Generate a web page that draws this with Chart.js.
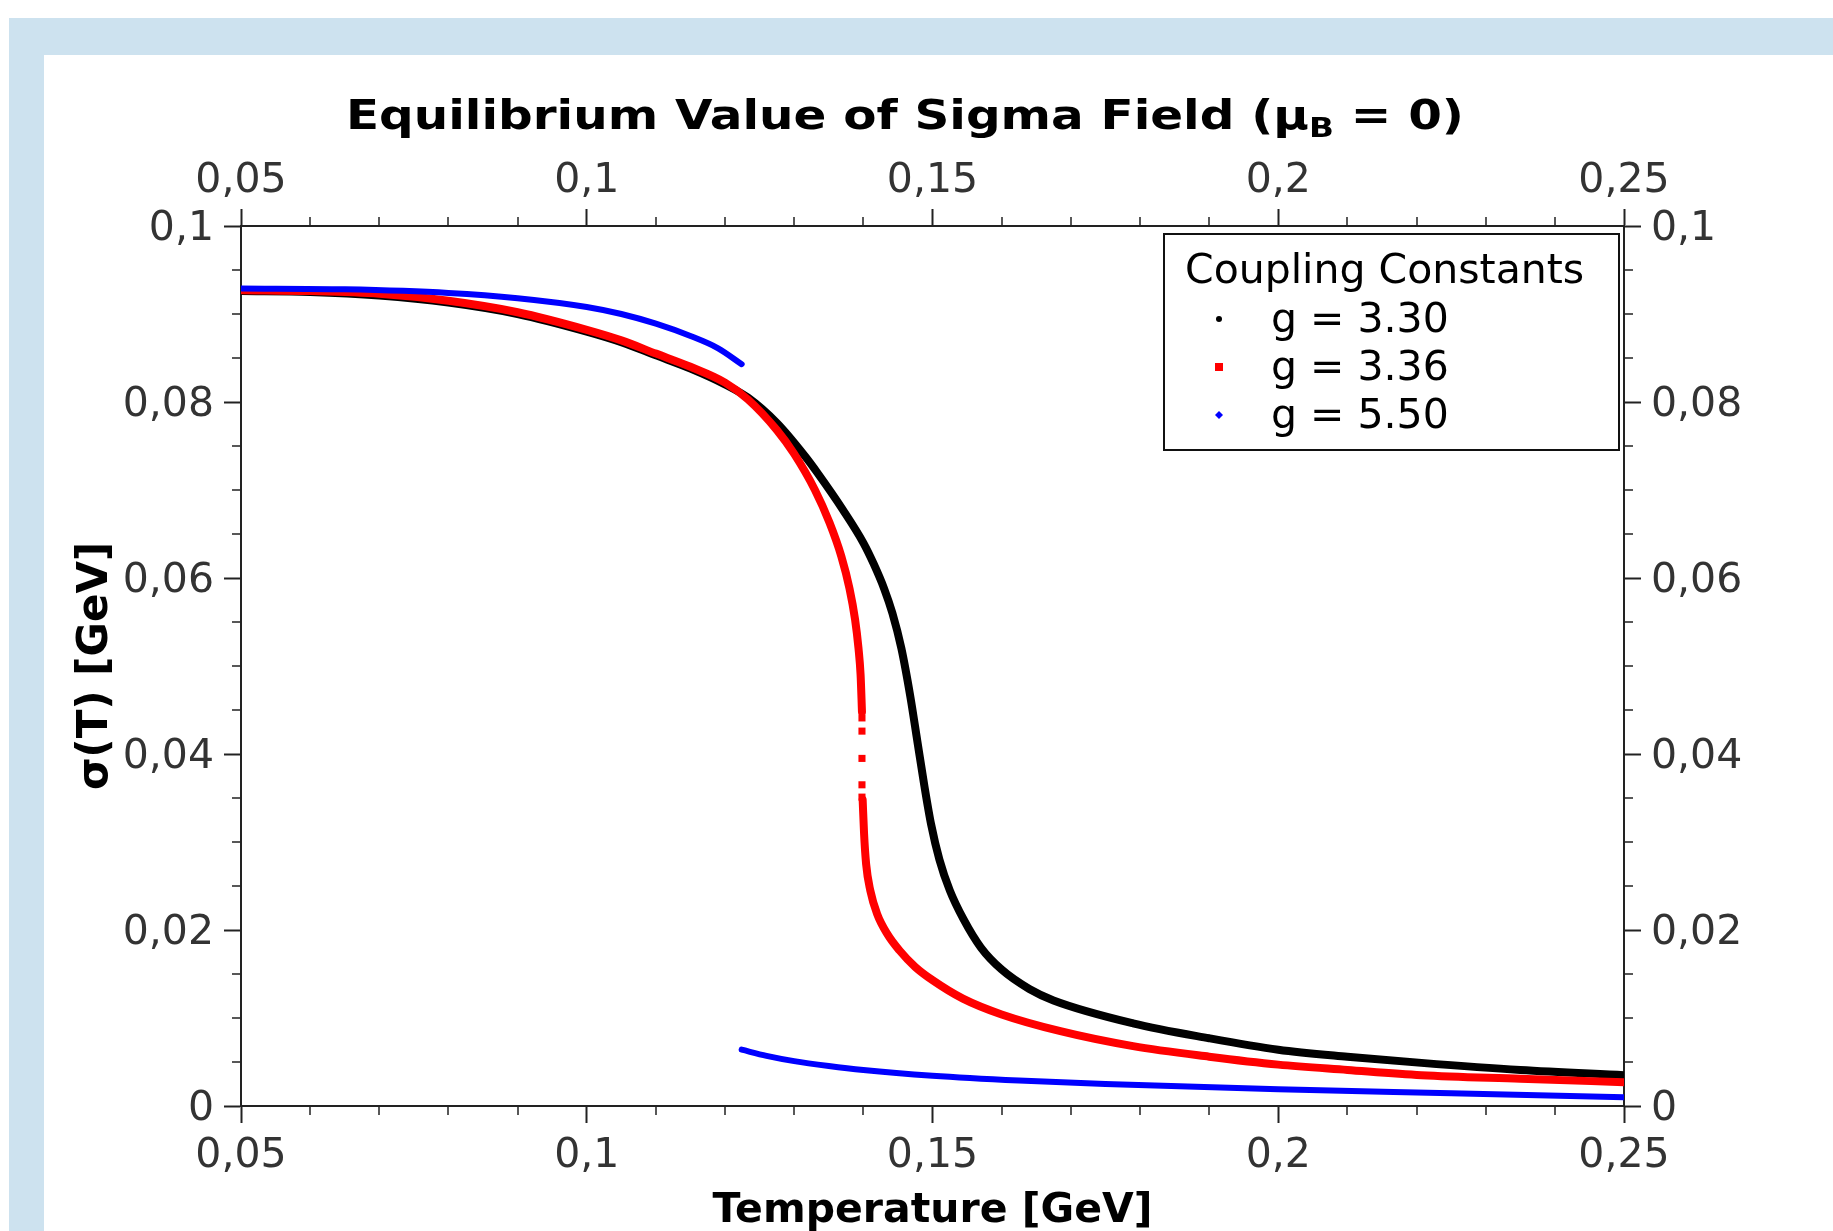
<!DOCTYPE html>
<html lang="en">
<head>
<meta charset="UTF-8">
<title>Equilibrium Value of Sigma Field</title>
<style>
    html, body { margin: 0; padding: 0; background: #fff; overflow: hidden; }
    #frame { position: absolute; left: 9px; top: 18px; width: 1824px; height: 1213px; background: #cde2ef; }
    #plot { position: absolute; left: 44px; top: 55px; width: 1789px; height: 1176px; background: #fff; }
</style>
<script src="https://cdn.jsdelivr.net/npm/chart.js"></script>
</head>
<body>
<div id="frame"></div>
<div id="plot"><canvas id="sigmaChart" width="1789" height="1176"></canvas></div>
<script>
    // tick values (labels use a decimal comma)
    const xTicks = [0.05, 0.1, 0.15, 0.2, 0.25];
    const yTicks = [0, 0.02, 0.04, 0.06, 0.08, 0.1];

    // g = 3.30
    const blackT = [0.050, 0.060, 0.070, 0.080, 0.090, 0.100, 0.105, 0.110, 0.115, 0.120, 0.1233, 0.1275, 0.1316, 0.1334, 0.1370, 0.1400, 0.1415, 0.1430, 0.1442, 0.1455, 0.1468, 0.1478, 0.1488, 0.1498, 0.1510, 0.1525, 0.1545, 0.1570, 0.1600, 0.1640, 0.1675, 0.1790, 0.1900, 0.2000, 0.2100, 0.2207, 0.2350, 0.2500];
    const blackSigma = [0.0926, 0.0925, 0.0921, 0.0913, 0.0900, 0.0880, 0.0868, 0.0853, 0.0838, 0.0820, 0.0805, 0.0776, 0.0738, 0.0719, 0.0678, 0.0640, 0.0616, 0.0588, 0.0560, 0.0520, 0.0465, 0.0415, 0.0365, 0.0320, 0.0280, 0.0245, 0.0212, 0.0180, 0.0155, 0.0133, 0.0120, 0.0094, 0.0077, 0.0064, 0.0056, 0.0049, 0.0041, 0.0035];

    // g = 3.36 (upper branch, sparse points across the jump, lower branch)
    const redUpperT = [0.050, 0.060, 0.070, 0.080, 0.090, 0.100, 0.105, 0.110, 0.115, 0.120, 0.1233, 0.1275, 0.1300, 0.1330, 0.1351, 0.1368, 0.1380, 0.1388, 0.1393, 0.1396, 0.1398];
    const redUpperSigma = [0.0927, 0.0926, 0.0923, 0.0915, 0.0902, 0.0882, 0.0870, 0.0855, 0.0840, 0.0822, 0.0803, 0.0768, 0.0741, 0.0700, 0.0663, 0.0625, 0.0588, 0.0553, 0.0520, 0.0490, 0.0448];
    const redJumpT = [0.1398, 0.1398, 0.1398, 0.1398, 0.1398];
    const redJumpSigma = [0.0441, 0.0426, 0.0395, 0.0365, 0.0351];
    const redLowerT = [0.1399, 0.1401, 0.1404, 0.1410, 0.1420, 0.1435, 0.1452, 0.1475, 0.1500, 0.1544, 0.1600, 0.1685, 0.1790, 0.1900, 0.2000, 0.2100, 0.2207, 0.2350, 0.2500];
    const redLowerSigma = [0.0348, 0.0310, 0.0275, 0.0245, 0.0218, 0.0195, 0.0177, 0.0158, 0.0143, 0.0122, 0.0104, 0.0085, 0.0068, 0.0056, 0.0047, 0.0041, 0.0035, 0.0031, 0.0027];

    // g = 5.50 (first order jump at T ~ 0.1224)
    const blueUpperT = [0.050, 0.065, 0.080, 0.090, 0.100, 0.105, 0.110, 0.115, 0.119, 0.1224];
    const blueUpperSigma = [0.0929, 0.0928, 0.0924, 0.0918, 0.0908, 0.0900, 0.0889, 0.0875, 0.0861, 0.0843];
    const blueLowerT = [0.1224, 0.126, 0.130, 0.135, 0.140, 0.150, 0.1625, 0.175, 0.200, 0.225, 0.250];
    const blueLowerSigma = [0.0064, 0.0057, 0.0051, 0.00455, 0.0041, 0.00345, 0.0029, 0.0025, 0.0019, 0.00145, 0.0010];

    const FONT = "'DejaVu Sans'";
    const pts = (xs, ys) => xs.map((x, i) => ({x: x, y: ys[i]}));
    const gap = x => [{x: x, y: null}];
    const fmt = v => String(+v.toFixed(3)).replace('.', ',');

    function axis(position, values, size, padding) {
        const horizontal = position === 'top' || position === 'bottom';
        return {
            type: 'linear',
            position: position,
            min: horizontal ? 0.05 : 0,
            max: horizontal ? 0.25 : 0.1,
            afterBuildTicks: s => { s.ticks = values.map(v => ({value: v})); },
            afterFit: s => { if (horizontal) s.height = size; else s.width = size; },
            ticks: {
                autoSkip: false, maxRotation: 0, padding: padding,
                labelOffset: horizontal ? 0 : 3,
                color: '#333', font: {family: FONT, size: 41},
                callback: v => fmt(v)
            },
            grid: {drawOnChartArea: false, drawTicks: true, tickLength: 17, tickWidth: 2, tickColor: '#222'},
            border: {display: true, color: '#222', width: 2}
        };
    }

    // minor ticks, titles and the boxed legend
    const decorations = {
        id: 'decorations',
        afterDraw(chart) {
            const ctx = chart.ctx, a = chart.chartArea;
            const sx = chart.scales.x, sy = chart.scales.y;
            ctx.save();
            ctx.strokeStyle = '#222';
            ctx.lineWidth = 1.5;
            ctx.beginPath();
            for (let i = 6; i < 25; i++) {
                if (i % 5 === 0) continue;
                const px = Math.round(sx.getPixelForValue(i / 100));
                ctx.moveTo(px, a.bottom); ctx.lineTo(px, a.bottom + 9);
                ctx.moveTo(px, a.top); ctx.lineTo(px, a.top - 9);
            }
            for (let i = 1; i < 20; i++) {
                if (i % 4 === 0) continue;
                const py = Math.round(sy.getPixelForValue(i * 0.005));
                ctx.moveTo(a.left, py); ctx.lineTo(a.left - 9, py);
                ctx.moveTo(a.right, py); ctx.lineTo(a.right + 9, py);
            }
            ctx.stroke();

            // main title with subscript, drawn slightly stretched sideways like the original
            ctx.fillStyle = '#000';
            ctx.textBaseline = 'alphabetic';
            ctx.textAlign = 'left';
            const big = 'bold 40px ' + FONT, small = 'bold 27px ' + FONT;
            const p1 = 'Equilibrium Value of Sigma Field (\u03bc', p2 = 'B', p3 = ' = 0)';
            ctx.font = big; const w1 = ctx.measureText(p1).width, w3 = ctx.measureText(p3).width;
            ctx.font = small; const w2 = ctx.measureText(p2).width;
            const stretch = 1118 / (w1 + w2 + w3);
            ctx.save();
            ctx.translate(861 - 559, 0);
            ctx.scale(stretch, 1);
            let tx = 0;
            ctx.font = big; ctx.fillText(p1, tx, 74); tx += w1;
            ctx.font = small; ctx.fillText(p2, tx, 82); tx += w2;
            ctx.font = big; ctx.fillText(p3, tx, 74);
            ctx.restore();

            // axis titles
            ctx.textAlign = 'center';
            ctx.font = 'bold 41px ' + FONT;
            ctx.fillText('Temperature [GeV]', (a.left + a.right) / 2, 1167);
            ctx.save();
            ctx.font = 'bold 42px ' + FONT;
            ctx.translate(63, (a.top + a.bottom) / 2);
            ctx.rotate(-Math.PI / 2);
            ctx.fillText('\u03c3(T) [GeV]', 0, 0);
            ctx.restore();

            // legend
            const lx = a.right - 460, ly = a.top + 8;
            ctx.lineWidth = 2;
            ctx.strokeStyle = '#111';
            ctx.strokeRect(lx, ly, 455, 216);
            ctx.textAlign = 'left';
            ctx.font = '41px ' + FONT;
            ctx.fillText('Coupling Constants', lx + 21, ly + 49);
            const sets = chart.data.datasets.filter(d => d.inLegend);
            sets.forEach((d, i) => {
                const base = ly + 98 + i * 48, mx = lx + 55, my = base - 13;
                ctx.fillStyle = d.borderColor;
                if (d.marker === 'circle') {
                    ctx.beginPath(); ctx.arc(mx, my, 3, 0, 2 * Math.PI); ctx.fill();
                } else if (d.marker === 'rect') {
                    ctx.fillRect(mx - 4, my - 4, 8, 8);
                } else {
                    ctx.beginPath(); ctx.moveTo(mx, my - 4); ctx.lineTo(mx + 4, my);
                    ctx.lineTo(mx, my + 4); ctx.lineTo(mx - 4, my); ctx.closePath(); ctx.fill();
                }
                ctx.fillStyle = '#000';
                ctx.fillText(d.label, lx + 107, base);
            });
            ctx.restore();
        }
    };

    const lineStyle = {showLine: true, pointRadius: 0, cubicInterpolationMode: 'monotone', borderCapStyle: 'round', xAxisID: 'x', yAxisID: 'y'};

    new Chart(document.getElementById('sigmaChart').getContext('2d'), {
        type: 'scatter',
        data: {
            datasets: [
                Object.assign({label: 'g = 3.30', inLegend: true, marker: 'circle', order: 3, borderColor: '#000', borderWidth: 8,
                    data: pts(blackT, blackSigma)}, lineStyle),
                Object.assign({label: 'g = 3.36', inLegend: true, marker: 'rect', order: 2, borderColor: '#ff0000', borderWidth: 8,
                    data: pts(redUpperT, redUpperSigma).concat(gap(0.1398), pts(redLowerT, redLowerSigma))}, lineStyle),
                {label: 'g = 3.36 jump', order: 2, showLine: false, pointStyle: 'rect', pointRadius: 5, borderWidth: 0,
                    backgroundColor: '#ff0000', borderColor: '#ff0000', xAxisID: 'x', yAxisID: 'y',
                    data: pts(redJumpT, redJumpSigma)},
                Object.assign({label: 'g = 5.50', inLegend: true, marker: 'diamond', order: 1, borderColor: '#0000ff', borderWidth: 6,
                    data: pts(blueUpperT, blueUpperSigma).concat(gap(0.1224), pts(blueLowerT, blueLowerSigma))}, lineStyle)
            ]
        },
        options: {
            responsive: false,
            animation: false,
            devicePixelRatio: 1,
            layout: {padding: 0},
            scales: {
                x: axis('bottom', xTicks, 125, 9),
                x2: axis('top', xTicks, 171, 3),
                y: axis('left', yTicks, 197, 10),
                y2: axis('right', yTicks, 209, 10)
            },
            plugins: {legend: {display: false}, tooltip: {enabled: false}}
        },
        plugins: [decorations]
    });
</script>
</body>
</html>
